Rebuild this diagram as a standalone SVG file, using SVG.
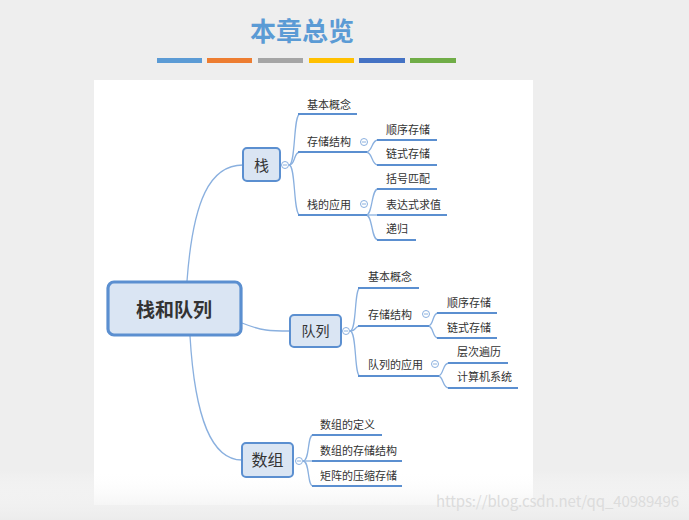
<svg xmlns="http://www.w3.org/2000/svg" width="689" height="520" viewBox="0 0 689 520">
<defs>
<linearGradient id="fade" x1="0" y1="0" x2="0" y2="1">
<stop offset="0" stop-color="#ffffff" stop-opacity="0"/>
<stop offset="1" stop-color="#ececec"/>
</linearGradient>
<style>
text{font-family:"Noto Sans CJK SC","Noto Sans",sans-serif;}
.t{font-size:11px;fill:#333;}
.u{stroke:#5b8fd0;stroke-width:2.2;fill:none;}
.c{stroke:#8ab0df;stroke-width:1.3;fill:none;}
.n{fill:#dae5f3;stroke:#5b8fd0;stroke-width:2;}
.k{fill:#fff;stroke:#8ab0df;stroke-width:1;}
.km{stroke:#8ab0df;stroke-width:1;}
.nt{fill:#333;text-anchor:middle;}
</style>
</defs>
<rect width="689" height="520" fill="#eeeeee"/>
<rect x="94" y="80" width="439" height="425" fill="#ffffff"/>
<rect x="0" y="470" width="689" height="50" fill="url(#fade)"/>

<g id="title">
<text x="302" y="41" text-anchor="middle" font-size="26" font-weight="bold" fill="#5b9bd5">本章总览</text>
<rect x="157" y="58" width="45" height="5" fill="#5b9bd5"/>
<rect x="207" y="58" width="45" height="5" fill="#ed7d31"/>
<rect x="258" y="58" width="45" height="5" fill="#a5a5a5"/>
<rect x="309" y="58" width="45" height="5" fill="#ffc000"/>
<rect x="359" y="58" width="46" height="5" fill="#4472c4"/>
<rect x="410" y="58" width="46" height="5" fill="#70ad47"/>
</g>

<g id="connectors">
<path class="c" d="M187,281 C193,200 210,165 243,165"/>
<path class="c" d="M242,323 C262,331 270,331 290,331"/>
<path class="c" d="M190,336 C195,420 212,460 242,460"/>
<!-- stack -->
<path class="c" d="M289,165 C296,165 293,114 300,114"/>
<path class="c" d="M289,165 C296,165 293,152 300,152"/>
<path class="c" d="M289,165 C296,165 293,215 300,215"/>
<path class="c" d="M366,152 C373,152 371,140 378,140"/>
<path class="c" d="M366,152 C373,152 371,165 378,165"/>
<path class="c" d="M366,215 C373,215 371,189 378,189"/>
<path class="c" d="M366,215 L378,215"/>
<path class="c" d="M366,215 C373,215 371,240 378,240"/>
<!-- queue -->
<path class="c" d="M350,331 C357,331 354,288 360,288"/>
<path class="c" d="M350,331 C357,331 354,326 360,326"/>
<path class="c" d="M350,331 C357,331 354,376 360,376"/>
<path class="c" d="M428,326 C434,326 432,313 438,313"/>
<path class="c" d="M428,326 C434,326 432,338 438,338"/>
<path class="c" d="M438,376 C444,376 442,363 449,363"/>
<path class="c" d="M438,376 C444,376 442,388 449,388"/>
<!-- array -->
<path class="c" d="M303,461 C310,461 307,435 313,435"/>
<path class="c" d="M303,461 L313,461"/>
<path class="c" d="M303,461 C310,461 307,486 313,486"/>
</g>

<g id="root">
<rect x="108" y="282" width="133" height="53" rx="6" fill="#dae5f3" stroke="#5b8fd0" stroke-width="3.2"/>
<text x="174" y="317" class="nt" font-size="19" font-weight="bold">栈和队列</text>
</g>

<g id="stack">
<rect class="n" x="243" y="148" width="37" height="33" rx="4"/>
<text x="261.5" y="170.5" class="nt" font-size="15">栈</text>
<circle class="k" cx="285" cy="165" r="3.5"/><line class="km" x1="283" y1="165" x2="287" y2="165"/>
</g>
<g id="queue">
<rect class="n" x="290" y="315" width="51" height="32" rx="4"/>
<text x="315.5" y="336" class="nt" font-size="14">队列</text>
<circle class="k" cx="346" cy="331" r="3.5"/><line class="km" x1="344" y1="331" x2="348" y2="331"/>
</g>
<g id="array">
<rect class="n" x="242" y="443" width="51" height="34" rx="4"/>
<text x="267.5" y="466" class="nt" font-size="16">数组</text>
<circle class="k" cx="299" cy="461" r="3.5"/><line class="km" x1="297" y1="461" x2="301" y2="461"/>
</g>

<g id="s-basic"><line class="u" x1="298" y1="114" x2="357" y2="114"/><text class="t" x="307" y="109">基本概念</text></g>
<g id="s-storage"><line class="u" x1="298" y1="152" x2="367" y2="152"/><text class="t" x="307" y="146">存储结构</text>
<circle class="k" cx="364" cy="142" r="3.5"/><line class="km" x1="362" y1="142" x2="366" y2="142"/></g>
<g id="s-seq"><line class="u" x1="377" y1="140" x2="437" y2="140"/><text class="t" x="386" y="134">顺序存储</text></g>
<g id="s-link"><line class="u" x1="377" y1="165" x2="437" y2="165"/><text class="t" x="386" y="158">链式存储</text></g>
<g id="s-app"><line class="u" x1="298" y1="215" x2="367" y2="215"/><text class="t" x="307" y="209">栈的应用</text>
<circle class="k" cx="364" cy="204" r="3.5"/><line class="km" x1="362" y1="204" x2="366" y2="204"/></g>
<g id="s-bracket"><line class="u" x1="377" y1="189" x2="437" y2="189"/><text class="t" x="386" y="183">括号匹配</text></g>
<g id="s-expr"><line class="u" x1="377" y1="215" x2="447" y2="215"/><text class="t" x="386" y="209">表达式求值</text></g>
<g id="s-rec"><line class="u" x1="377" y1="240" x2="416" y2="240"/><text class="t" x="386" y="233">递归</text></g>

<g id="q-basic"><line class="u" x1="358" y1="288" x2="419" y2="288"/><text class="t" x="368" y="281">基本概念</text></g>
<g id="q-storage"><line class="u" x1="358" y1="326" x2="429" y2="326"/><text class="t" x="368" y="319">存储结构</text>
<circle class="k" cx="426" cy="314" r="3.5"/><line class="km" x1="424" y1="314" x2="428" y2="314"/></g>
<g id="q-seq"><line class="u" x1="437" y1="313" x2="497" y2="313"/><text class="t" x="447" y="307">顺序存储</text></g>
<g id="q-link"><line class="u" x1="437" y1="338" x2="497" y2="338"/><text class="t" x="447" y="332">链式存储</text></g>
<g id="q-app"><line class="u" x1="358" y1="376" x2="439" y2="376"/><text class="t" x="368" y="369">队列的应用</text>
<circle class="k" cx="435" cy="364" r="3.5"/><line class="km" x1="433" y1="364" x2="437" y2="364"/></g>
<g id="q-level"><line class="u" x1="448" y1="363" x2="508" y2="363"/><text class="t" x="457" y="356">层次遍历</text></g>
<g id="q-sys"><line class="u" x1="448" y1="388" x2="518" y2="388"/><text class="t" x="457" y="381">计算机系统</text></g>

<g id="a-def"><line class="u" x1="312" y1="435" x2="382" y2="435"/><text class="t" x="320" y="429">数组的定义</text></g>
<g id="a-storage"><line class="u" x1="312" y1="461" x2="402" y2="461"/><text class="t" x="320" y="455">数组的存储结构</text></g>
<g id="a-matrix"><line class="u" x1="312" y1="486" x2="402" y2="486"/><text class="t" x="320" y="480">矩阵的压缩存储</text></g>

<text x="436" y="507" font-family="Liberation Sans, Arial, sans-serif" font-size="15" fill="#dcdcdc" textLength="243">https://blog.csdn.net/qq_40989496</text>
</svg>
